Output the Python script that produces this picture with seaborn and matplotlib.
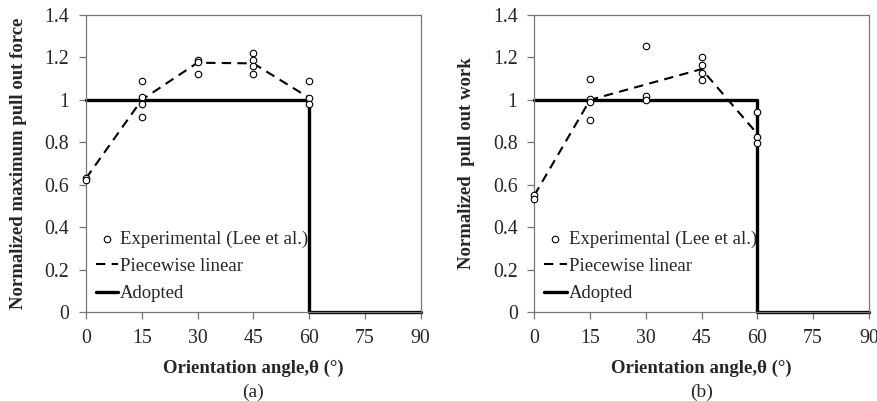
import numpy as np
import pandas as pd
import matplotlib
matplotlib.use('Agg')
import matplotlib.pyplot as plt
import seaborn as sns

# experimental points (Lee et al.)
force_angle = [0, 0, 15, 15, 15, 15, 30, 30, 30, 45, 45, 45, 45, 60, 60, 60]
force_value = [0.63, 0.62, 1.09, 1.015, 0.98, 0.92, 1.19, 1.18, 1.12, 1.22, 1.19, 1.16, 1.12, 1.09, 1.01, 0.98]
work_angle = [0, 0, 15, 15, 15, 15, 30, 30, 30, 45, 45, 45, 45, 60, 60, 60]
work_value = [0.55, 0.535, 1.10, 1.005, 0.99, 0.905, 1.255, 1.02, 1.0, 1.20, 1.165, 1.125, 1.095, 0.943, 0.826, 0.795]

# piecewise linear fits
force_pw_angle = [0, 15, 30, 45, 60]
force_pw_value = [0.63, 1.0, 1.175, 1.172, 1.01]
work_pw_angle = [0, 15, 45, 60]
work_pw_value = [0.55, 1.0, 1.145, 0.84]

# adopted step function
adopted_angle = [0, 60, 60, 90]
adopted_value = [1, 1, 0, 0]

x_ticks = [0, 15, 30, 45, 60, 75, 90]
y_ticks = [0, 0.2, 0.4, 0.6, 0.8, 1.0, 1.2, 1.4]
y_tick_labels = ['0', '0.2', '0.4', '0.6', '0.8', '1', '1.2', '1.4']

sns.set_style('white')
plt.rcParams['font.family'] = ['Liberation Serif', 'DejaVu Serif']

fig = plt.figure(figsize=(8.77, 4.01), dpi=100)
W, H = 877, 401


def panel(rect, exp_x, exp_y, pw_x, pw_y, ylabel, caption):
    ax = fig.add_axes(rect)
    exp = pd.DataFrame({'angle': exp_x, 'value': exp_y})
    pw = pd.DataFrame({'angle': pw_x, 'value': pw_y})
    ad = pd.DataFrame({'angle': adopted_angle, 'value': adopted_value})

    sns.lineplot(data=ad, x='angle', y='value', ax=ax, color='black', lw=2.4,
                 sort=False, estimator=None, label='Adopted', zorder=2, clip_on=False)
    sns.lineplot(data=pw, x='angle', y='value', ax=ax, color='black', lw=1.5,
                 sort=False, estimator=None, label='Piecewise linear', zorder=3)
    ax.lines[-1].set_dashes((4.5, 3))
    sns.scatterplot(data=exp, x='angle', y='value', ax=ax, s=22, marker='o',
                    facecolor='white', edgecolor='black', linewidth=0.8,
                    label='Experimental (Lee et al.)', zorder=4, clip_on=False)

    ax.set_xlim(0, 90)
    ax.set_ylim(0, 1.4)
    ax.set_xticks(x_ticks)
    ax.set_yticks(y_ticks)
    ax.set_yticklabels(y_tick_labels)
    ax.tick_params(axis='both', which='major', labelsize=14.3, direction='out',
                   length=5, width=0.9, color='#777777', left=True, bottom=True, pad=7)
    for sp in ax.spines.values():
        sp.set_color('#777777')
        sp.set_linewidth(0.9)

    ax.set_xlabel('Orientation angle,θ (°)', fontsize=13.5, fontweight='bold', labelpad=9)
    ax.set_ylabel(ylabel, fontsize=13.5, fontweight='bold', labelpad=13)

    handles, labels = ax.get_legend_handles_labels()
    order = [2, 1, 0]
    ax.legend([handles[i] for i in order], [labels[i] for i in order],
              loc='lower left', bbox_to_anchor=(0.01, 0.01), frameon=False,
              fontsize=13.5, handlelength=1.2, handletextpad=0.1,
              labelspacing=0.55, borderaxespad=0.15, borderpad=0.2)

    ax.text(0.5, -0.27, caption, transform=ax.transAxes, ha='center', va='center',
            fontsize=14)
    return ax


panel([86 / W, 1 - 312 / H, 334.5 / W, 297 / H], force_angle, force_value,
      force_pw_angle, force_pw_value, 'Normalized maximum pull out force', '(a)')
panel([534.3 / W, 1 - 312 / H, 334.5 / W, 297 / H], work_angle, work_value,
      work_pw_angle, work_pw_value, 'Normalized  pull out work', '(b)')

fig.savefig('out.png', dpi=100)
